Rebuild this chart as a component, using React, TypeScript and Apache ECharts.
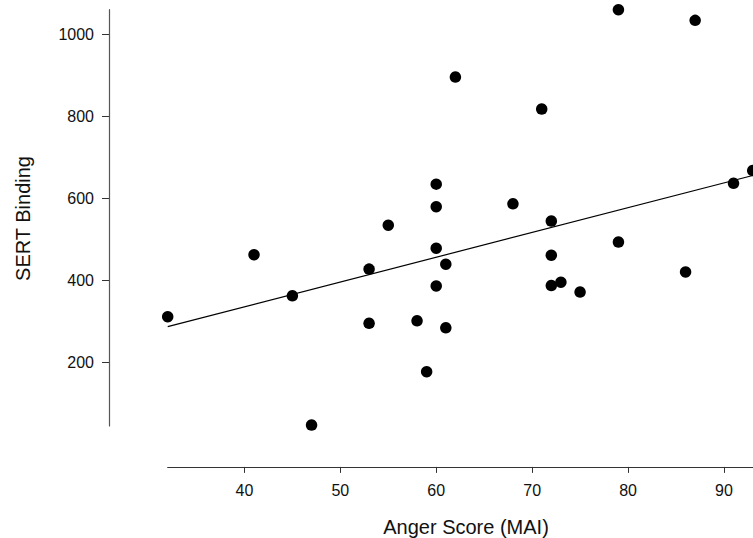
import React, { useEffect, useRef } from "react";
import * as echarts from "echarts";

const angerScores = [32, 41, 45, 47, 53, 53, 55, 58, 59, 60, 60, 60, 60, 61, 61, 62, 68, 71, 72, 72, 72, 73, 75, 79, 79, 86, 87, 91, 93];
const sertBinding = [312, 463, 363, 48, 428, 296, 535, 302, 178, 635, 580, 479, 387, 440, 285, 896, 587, 818, 545, 462, 388, 396, 372, 1060, 494, 421, 1034, 637, 668];
const fitX = [32, 93];
const fitY = [288, 656];
const xTicks = [40, 50, 60, 70, 80, 90];
const yTicks = [200, 400, 600, 800, 1000];

export default function App() {
  const ref = useRef<HTMLDivElement>(null);
  useEffect(() => {
    if (!ref.current) return;
    const chart = echarts.init(ref.current, null, { renderer: "svg" });
    const font = "'Liberation Sans', Arial, Helvetica, sans-serif";
    const points = angerScores.map((x, i) => [x, sertBinding[i]]);
    const fit = fitX.map((x, i) => [x, fitY[i]]);
    chart.setOption({
      animation: false,
      backgroundColor: "#ffffff",
      grid: { left: 167.7, top: 9.7, width: 585, height: 416.2, containLabel: false },
      xAxis: {
        type: "value",
        min: 32,
        max: 93,
        offset: 41,
        splitLine: { show: false },
        axisLine: { show: true, lineStyle: { color: "#333", width: 1.2 } },
        axisTick: { show: true, length: 6, lineStyle: { color: "#333" }, customValues: xTicks },
        axisLabel: {
          show: true,
          margin: 16,
          fontSize: 16,
          color: "#111",
          fontFamily: font,
          customValues: xTicks,
          formatter: (v: number) => String(v),
        },
      },
      yAxis: {
        type: "value",
        min: 46,
        max: 1060,
        offset: 58.7,
        splitLine: { show: false },
        axisLine: { show: true, lineStyle: { color: "#555", width: 1.2 } },
        axisTick: { show: true, length: 7, lineStyle: { color: "#333" }, customValues: yTicks },
        axisLabel: {
          show: true,
          margin: 15,
          fontSize: 16,
          color: "#111",
          fontFamily: font,
          customValues: yTicks,
          formatter: (v: number) => String(v),
        },
      },
      graphic: [
        {
          type: "text",
          x: 466,
          y: 527,
          style: {
            text: "Anger Score (MAI)",
            fontSize: 20,
            fontFamily: font,
            fill: "#111",
            align: "center",
            verticalAlign: "middle",
          },
        },
        {
          type: "text",
          x: 23,
          y: 218.5,
          rotation: Math.PI / 2,
          style: {
            text: "SERT Binding",
            fontSize: 20,
            fontFamily: font,
            fill: "#111",
            align: "center",
            verticalAlign: "middle",
          },
        },
      ],
      series: [
        {
          type: "line",
          data: fit,
          symbol: "none",
          clip: false,
          lineStyle: { color: "#000", width: 1.2 },
          z: 1,
        },
        {
          type: "scatter",
          data: points,
          symbol: "circle",
          symbolSize: 11.5,
          clip: false,
          itemStyle: { color: "#000", opacity: 1 },
          z: 2,
        },
      ],
    });
    return () => chart.dispose();
  }, []);
  return <div ref={ref} style={{ width: 753, height: 538, position: "fixed", left: 0, top: 0 }} />;
}
